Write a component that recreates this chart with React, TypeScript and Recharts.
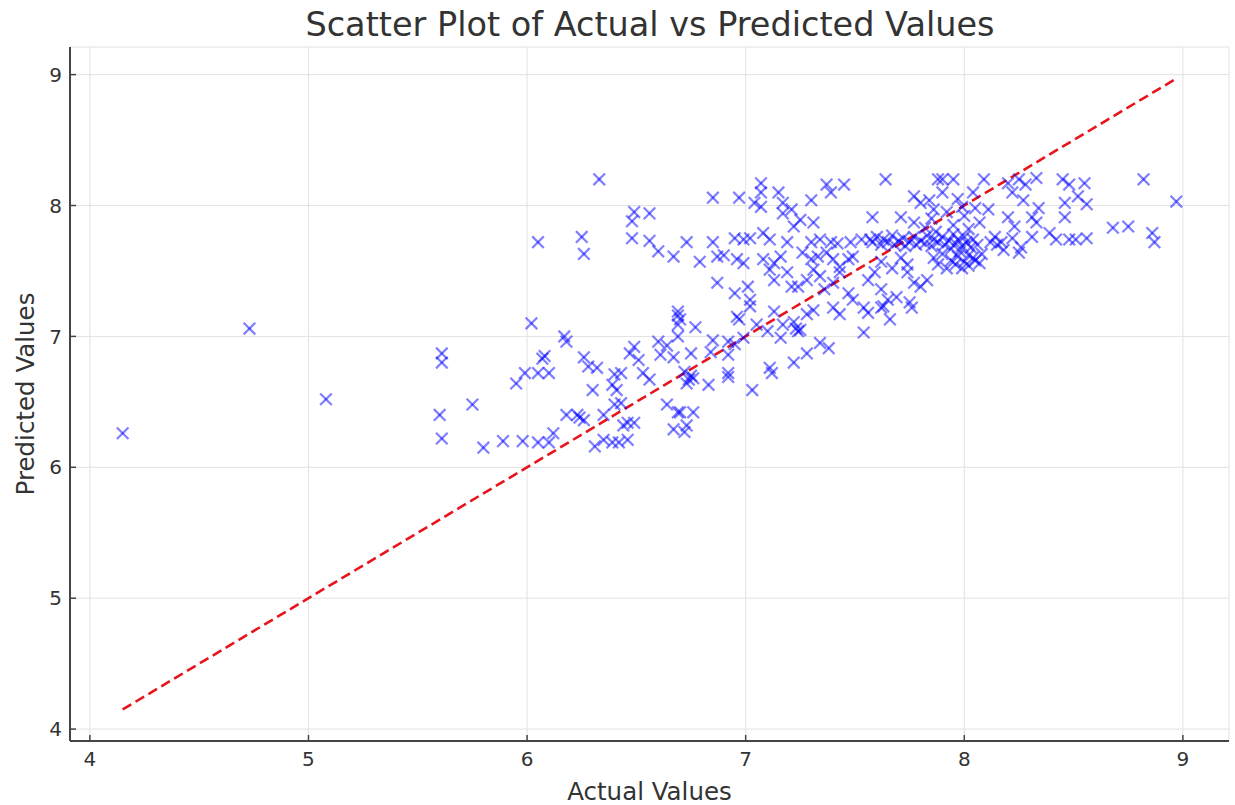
import React from 'react';
import { ScatterChart, Scatter, XAxis, YAxis, CartesianGrid, ReferenceLine } from 'recharts';

// actual (x) and predicted (y) values
const actualValues = [
  4.15, 4.73, 5.08,
  6.02, 5.61, 5.61, 6.17, 6.18, 6.08, 6.07, 5.99, 5.95, 6.05, 6.10, 5.75, 5.60, 5.61, 5.80, 5.89, 5.98,
  6.05, 6.10, 6.12, 6.18, 6.24, 6.23, 6.26, 6.26, 6.28, 6.32, 6.30, 6.40, 6.43, 6.39, 6.41, 6.49, 6.51,
  6.47, 6.53, 6.56, 6.60, 6.61, 6.64, 6.67, 6.69, 6.69, 6.69, 6.43, 6.40, 6.46, 6.44, 6.49, 6.35, 6.39,
  6.42, 6.46, 6.31, 6.64, 6.69, 6.67, 6.35,
  6.33, 6.05, 6.25, 6.26, 6.49, 6.56, 6.48, 6.48, 6.56, 6.60, 6.67, 6.69,
  6.85, 6.97, 7.07, 7.07, 7.04, 7.15, 7.17, 7.30, 7.37, 7.45, 7.39, 7.64, 7.88,
  7.07, 7.21, 7.25, 7.31, 7.22, 7.17, 7.58, 7.71, 7.77, 7.80, 7.84, 7.86, 7.77,
  6.73, 6.85, 6.95, 6.99, 7.02, 7.08, 7.11, 7.19, 7.30, 7.34, 7.39, 7.42, 7.48, 7.53,
  6.79, 6.87, 6.90, 6.96, 6.99, 7.08, 7.13, 7.16, 7.26, 7.30, 7.33, 7.37, 7.40, 7.43, 7.47, 7.49,
  6.87, 6.95, 7.01, 7.02, 7.11, 7.13, 7.19, 7.21, 7.24, 7.28, 7.31, 7.34, 7.36, 7.40, 7.43, 7.47, 7.49,
  7.56, 7.59, 7.62, 7.65, 7.74, 7.77, 7.80, 7.83, 7.69, 7.75, 7.63, 6.96,
  6.97, 6.77, 6.70, 6.85, 6.92, 6.95, 6.99, 6.75, 6.84, 6.92, 6.72, 6.76, 6.83, 6.92, 6.92, 7.03, 7.11,
  7.12, 7.22, 7.28, 7.34, 7.38, 7.16, 7.17, 7.22, 7.25, 7.10, 7.05, 7.13, 7.02, 7.28, 7.31, 7.40, 7.43,
  7.54, 7.56, 7.62, 7.66, 7.76, 7.54, 6.70, 6.76, 6.73, 6.72, 6.74, 6.75, 6.73, 7.23, 7.24,
  7.90, 7.95, 8.09, 8.25, 8.33, 8.45, 8.48, 8.55, 8.82, 8.97, 8.46, 8.56, 8.46, 8.52, 8.68, 8.75, 8.86,
  8.87, 8.39, 8.42, 8.48, 8.51, 8.56, 8.25, 8.31, 8.33, 8.31, 8.34, 8.27, 8.22, 8.28, 8.20, 8.14, 8.17,
  8.23, 8.20, 8.11, 8.04, 7.99, 7.90, 8.07,
  7.57, 7.58, 7.60, 7.62, 7.63, 7.65, 7.67, 7.68, 7.70, 7.72, 7.73, 7.75, 7.77, 7.78, 7.80, 7.82, 7.83,
  7.85, 7.86, 7.88, 7.90, 7.91, 7.93, 7.94, 7.95, 7.96, 7.97, 7.98, 7.99, 8.00, 8.01, 8.02, 8.03, 8.04,
  8.05, 8.06,
  7.86, 7.88, 7.90, 7.92, 7.94, 7.96, 7.97, 7.99, 8.00, 8.02, 8.04, 8.07, 8.08,
  7.82, 7.85, 7.87, 7.92, 7.95, 7.97, 8.00, 8.02, 8.05,
  8.15, 8.18, 8.12, 8.22, 8.26, 7.62, 7.67, 7.71, 7.74,
];

const predictedValues = [
  6.26, 7.06, 6.52,
  7.10, 6.87, 6.80, 7.00, 6.96, 6.85, 6.83, 6.72, 6.64, 6.72, 6.72, 6.48, 6.40, 6.22, 6.15, 6.20, 6.20,
  6.19, 6.19, 6.26, 6.40, 6.38, 6.40, 6.36, 6.84, 6.77, 6.76, 6.59, 6.71, 6.72, 6.63, 6.59, 6.92, 6.82,
  6.87, 6.72, 6.67, 6.96, 6.86, 6.93, 6.84, 7.00, 7.09, 7.16, 6.49, 6.48, 6.34, 6.32, 6.34, 6.21, 6.19,
  6.19, 6.21, 6.16, 6.48, 6.42, 6.29, 6.40,
  8.20, 7.72, 7.76, 7.63, 7.95, 7.94, 7.88, 7.75, 7.73, 7.65, 7.61, 7.19,
  8.06, 8.06, 8.17, 8.10, 8.02, 8.10, 8.02, 8.04, 8.16, 8.16, 8.10, 8.20, 8.20,
  7.99, 7.97, 7.89, 7.87, 7.84, 7.94, 7.91, 7.91, 8.07, 8.02, 8.04, 7.97, 7.87,
  7.72, 7.72, 7.75, 7.74, 7.75, 7.79, 7.74, 7.72, 7.72, 7.74, 7.72, 7.71, 7.72, 7.74,
  7.57, 7.61, 7.62, 7.59, 7.56, 7.59, 7.56, 7.61, 7.64, 7.59, 7.61, 7.64, 7.59, 7.53, 7.59, 7.61,
  7.41, 7.33, 7.38, 7.28, 7.51, 7.43, 7.49, 7.38, 7.38, 7.43, 7.51, 7.46, 7.36, 7.41, 7.49, 7.33, 7.28,
  7.43, 7.49, 7.36, 7.28, 7.49, 7.41, 7.38, 7.43, 7.30, 7.26, 7.23, 7.15,
  7.13, 7.07, 7.13, 6.97, 6.96, 6.94, 6.99, 6.87, 6.88, 6.86, 6.73, 6.68, 6.63, 6.72, 6.69, 6.59, 6.76,
  6.72, 6.80, 6.87, 6.95, 6.91, 6.99, 7.09, 7.11, 7.05, 7.04, 7.09, 7.19, 7.23, 7.17, 7.20, 7.22, 7.17,
  7.22, 7.18, 7.22, 7.13, 7.22, 7.03, 6.42, 6.42, 6.32, 6.27, 6.67, 6.70, 6.64, 7.06, 7.04,
  8.20, 8.20, 8.20, 8.20, 8.21, 8.20, 8.16, 8.17, 8.20, 8.03, 8.02, 8.01, 7.91, 8.07, 7.83, 7.84, 7.79,
  7.72, 7.79, 7.74, 7.74, 7.74, 7.75, 7.64, 7.76, 7.87, 7.91, 7.98, 8.04, 8.10, 8.16, 8.17, 7.76, 7.72,
  7.84, 7.91, 7.97, 8.10, 7.99, 8.10, 7.87,
  7.74, 7.72, 7.76, 7.70, 7.74, 7.72, 7.77, 7.70, 7.73, 7.75, 7.69, 7.72, 7.76, 7.70, 7.73, 7.71, 7.77,
  7.69, 7.74, 7.72, 7.76, 7.70, 7.73, 7.67, 7.78, 7.71, 7.74, 7.65, 7.69, 7.76, 7.72, 7.62, 7.68, 7.74,
  7.58, 7.70,
  7.60, 7.55, 7.63, 7.52, 7.58, 7.55, 7.61, 7.52, 7.57, 7.54, 7.60, 7.56, 7.63,
  7.83, 7.90, 7.80, 7.95, 7.85, 8.05, 7.92, 7.82, 7.98,
  7.70, 7.66, 7.72, 7.75, 7.68, 7.57, 7.52, 7.60, 7.55,
];

const axisTicks = [4, 5, 6, 7, 8, 9];
const axisDomain = [3.909, 9.211];

const points = actualValues.map((a, i) => ({ actual: a, predicted: predictedValues[i] }));
const lineMin = Math.min(...actualValues);
const lineMax = Math.max(...actualValues);

const TEXT = '#333333';
const SPINE = '#444444';

const Cross = (props: any) => {
  const { cx, cy } = props;
  const s = 5.8;
  return (
    <g stroke="blue" strokeOpacity={0.5} strokeWidth={2.2}>
      <line x1={cx - s} y1={cy - s} x2={cx + s} y2={cy + s} />
      <line x1={cx - s} y1={cy + s} x2={cx + s} y2={cy - s} />
    </g>
  );
};

// ticks point inward, labels stay outside
const XTick = ({ x, y, payload }: any) => (
  <g>
    <line x1={x} y1={y - 11} x2={x} y2={y - 17} stroke={SPINE} strokeWidth={1.5} />
    <text x={x} y={y} dy="0.71em" textAnchor="middle" fill={TEXT} fontSize={20}>
      {payload.value}
    </text>
  </g>
);

const YTick = ({ x, y, payload }: any) => (
  <g>
    <line x1={x + 8} y1={y} x2={x + 14} y2={y} stroke={SPINE} strokeWidth={1.5} />
    <text x={x} y={y} dy="0.355em" textAnchor="end" fill={TEXT} fontSize={20}>
      {payload.value}
    </text>
  </g>
);

export default function App() {
  return (
    <div style={{ position: 'absolute', left: 0, top: 0, width: 1235, height: 805, background: '#fff', fontFamily: 'DejaVu Sans' }}>
      <div
        style={{
          position: 'absolute',
          left: 65,
          width: 1170,
          top: 5,
          textAlign: 'center',
          fontSize: 33.5,
          color: TEXT,
          lineHeight: '40px',
        }}
      >
        Scatter Plot of Actual vs Predicted Values
      </div>
      <ScatterChart width={1235} height={805} margin={{ top: 47, right: 6, bottom: 0, left: 0 }}>
        <CartesianGrid stroke="#e2e2e2" strokeWidth={1} />
        <XAxis
          type="number"
          dataKey="actual"
          domain={axisDomain}
          allowDataOverflow
          ticks={axisTicks}
          interval={0}
          height={64}
          tickSize={0}
          tickMargin={11}
          tick={<XTick />}
          axisLine={{ stroke: SPINE, strokeWidth: 2 }}
          label={{ value: 'Actual Values', position: 'insideBottom', offset: 5, fill: TEXT, fontSize: 24.5 }}
        />
        <YAxis
          type="number"
          dataKey="predicted"
          domain={axisDomain}
          allowDataOverflow
          ticks={axisTicks}
          interval={0}
          width={70}
          tickSize={0}
          tickMargin={8}
          tick={<YTick />}
          axisLine={{ stroke: SPINE, strokeWidth: 2 }}
          label={{
            value: 'Predicted Values',
            angle: -90,
            position: 'insideLeft',
            offset: 25,
            fill: TEXT,
            fontSize: 24.5,
            style: { textAnchor: 'middle' },
          }}
        />
        <Scatter data={points} shape={Cross} isAnimationActive={false} />
        <ReferenceLine
          segment={[
            { x: lineMin, y: lineMin },
            { x: lineMax, y: lineMax },
          ]}
          stroke="#e8141c"
          strokeWidth={2.6}
          strokeDasharray="10 5"
          ifOverflow="visible"
        />
      </ScatterChart>
    </div>
  );
}
